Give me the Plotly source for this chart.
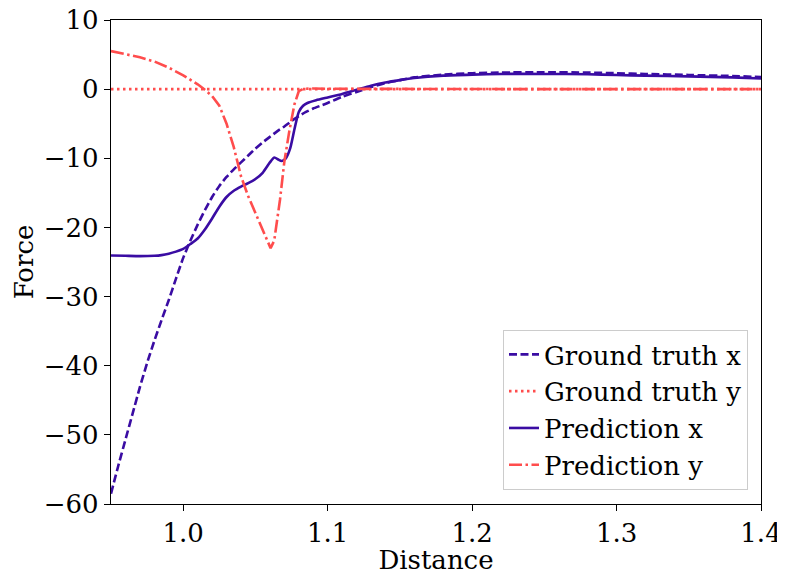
import plotly.graph_objects as go

# ---- data ----
gt_x_dist = [0.950, 0.955, 0.960, 0.965, 0.970, 0.975, 0.980, 0.985, 0.990, 0.995,
             1.000, 1.005, 1.010, 1.015, 1.020, 1.025, 1.030, 1.035, 1.040, 1.045,
             1.050, 1.055, 1.060, 1.065, 1.070, 1.075, 1.080, 1.085, 1.090, 1.095,
             1.100, 1.110, 1.120, 1.130, 1.140, 1.150, 1.160, 1.180, 1.200, 1.220,
             1.250, 1.280, 1.300, 1.320, 1.350, 1.380, 1.400]
gt_x_force = [-58.5, -54.5, -50.7, -46.9, -43.1, -39.6, -36.4, -33.4, -30.5, -27.4,
              -24.4, -21.9, -19.6, -17.5, -15.6, -14.0, -12.7, -11.6, -10.6, -9.6,
              -8.6, -7.7, -6.9, -6.1, -5.4, -4.6, -3.9, -3.3, -2.8, -2.4,
              -2.0, -1.1, -0.4, 0.3, 0.9, 1.3, 1.7, 2.1, 2.3, 2.4,
              2.45, 2.4, 2.3, 2.2, 2.05, 1.9, 1.75]

gt_y_dist = [0.95, 1.00, 1.05, 1.10, 1.15, 1.20, 1.25, 1.30, 1.35, 1.40]
gt_y_force = [0, 0, 0, 0, 0, 0, 0, 0, 0, 0]

pred_x_dist = [0.950, 0.960, 0.970, 0.980, 0.985, 0.990, 0.995, 1.000, 1.005, 1.010,
               1.015, 1.020, 1.025, 1.030, 1.035, 1.040, 1.045, 1.050, 1.055, 1.060,
               1.063, 1.066, 1.068, 1.071, 1.074, 1.077, 1.080, 1.083, 1.086, 1.092,
               1.100, 1.110, 1.120, 1.130, 1.140, 1.150, 1.160, 1.180, 1.200, 1.220,
               1.250, 1.280, 1.300, 1.320, 1.350, 1.380, 1.400]
pred_x_force = [-24.05, -24.1, -24.15, -24.1, -24.0, -23.8, -23.5, -23.1, -22.4, -21.6,
                -20.3, -18.7, -17.0, -15.6, -14.7, -14.1, -13.6, -13.0, -12.1, -10.6,
                -9.9, -10.2, -10.4, -10.0, -8.6, -5.8, -3.3, -2.4, -2.0, -1.6,
                -1.2, -0.7, -0.1, 0.5, 0.95, 1.3, 1.6, 1.95, 2.1, 2.2,
                2.2, 2.15, 2.05, 1.95, 1.85, 1.7, 1.55]

pred_y_dist = [0.950, 0.960, 0.970, 0.980, 0.990, 1.000, 1.010, 1.015, 1.020, 1.025,
               1.030, 1.035, 1.040, 1.045, 1.050, 1.055, 1.058, 1.0605, 1.063, 1.067,
               1.070, 1.0735, 1.077, 1.080, 1.083, 1.090, 1.100, 1.150, 1.200, 1.250,
               1.300, 1.350, 1.400]
pred_y_force = [5.5, 5.1, 4.6, 4.0, 3.1, 2.0, 0.7, -0.1, -1.0, -2.4,
                -5.0, -8.4, -12.6, -15.5, -17.9, -20.4, -21.9, -23.0, -21.9, -16.0,
                -10.5, -6.0, -2.2, -0.3, 0.05, 0.1, 0.05, 0.0, 0.0, 0.0,
                0.0, 0.0, 0.0]

x_ticks = [1.0, 1.1, 1.2, 1.3, 1.4]
y_ticks = [-60, -50, -40, -30, -20, -10, 0, 10]

INDIGO = "#3a0ca3"
RED = "#ff4d4d"
FONT = "DejaVu Serif"
FS = 26

fig = go.Figure()
fig.add_trace(go.Scatter(x=gt_x_dist, y=gt_x_force, mode="lines", name="Ground truth x",
                         legendgroup="a", line_shape="spline",
                         line=dict(color=INDIGO, width=2.6, dash="8px,3.5px", smoothing=0.5)))
fig.add_trace(go.Scatter(x=gt_y_dist, y=gt_y_force, mode="lines", name="Ground truth y",
                         legendgroup="b",
                         line=dict(color=RED, width=2.6, dash="2.5px,3.5px")))
fig.add_trace(go.Scatter(x=pred_x_dist, y=pred_x_force, mode="lines", name="Prediction x",
                         legendgroup="c", line_shape="spline",
                         line=dict(color=INDIGO, width=2.6, smoothing=0.6)))
fig.add_trace(go.Scatter(x=pred_y_dist, y=pred_y_force, mode="lines", name="Prediction y",
                         legendgroup="d",
                         line=dict(color=RED, width=2.6, dash="13px,3.5px,2.5px,3.5px")))

axis_common = dict(showline=True, linecolor="black", linewidth=1.3, mirror=True,
                   ticks="outside", ticklen=6, tickwidth=1.3, tickcolor="black",
                   showgrid=False, zeroline=False, automargin=False,
                   ticklabeloverflow="allow",
                   tickfont=dict(family=FONT, size=FS, color="black"))

fig.update_xaxes(range=[0.95, 1.4], tickvals=x_ticks, tickformat=".1f",
                 title=dict(text="Distance", font=dict(family=FONT, size=FS, color="black"),
                            standoff=5),
                 **axis_common)
fig.update_yaxes(range=[-60, 10], tickvals=y_ticks,
                 title=dict(text="Force", font=dict(family=FONT, size=FS, color="black"),
                            standoff=2),
                 **axis_common)

fig.update_layout(
    width=777, height=567,
    margin=dict(l=103, r=24, t=12, b=71),
    plot_bgcolor="white", paper_bgcolor="white",
    font=dict(family=FONT, size=FS, color="black"),
    legend=dict(x=0.98, y=0.029, xanchor="right", yanchor="bottom",
                bgcolor="rgba(255,255,255,0.8)", bordercolor="#cccccc", borderwidth=1,
                font=dict(family=FONT, size=FS, color="black"),
                tracegroupgap=0, traceorder="normal"),
)

fig.write_html("out.html")
